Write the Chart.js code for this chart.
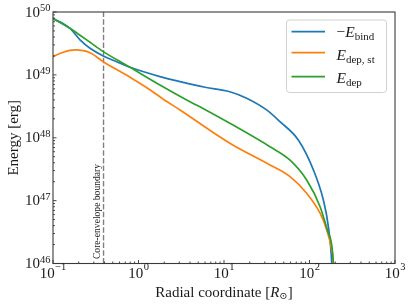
<!DOCTYPE html>
<html>
<head>
<meta charset="utf-8">
<script src="https://cdn.jsdelivr.net/npm/chart.js@4/dist/chart.umd.min.js"></script>
<style>
html,body{margin:0;padding:0;background:#fff;}
#c{display:block;}
</style>
</head>
<body>
<canvas id="c" width="411" height="307"></canvas>
<script>
// ---- data ----
const seriesLabels = ["−E_bind", "E_dep, st", "E_dep"];
const seriesColors = ["#1f77b4", "#ff7f0e", "#2ca02c"];

const radiusBind = [0.1, 0.158, 0.207, 0.271, 0.387, 0.556, 0.796, 1.78, 3.06, 6.0, 11.7, 18.4, 31.5, 45.2, 74, 111, 145, 166, 182, 186];
const energyBind = [7.9e49, 5.5e49, 3.6e49, 2.65e49, 2.0e49, 1.62e49, 1.32e49, 9.4e48, 7.8e48, 6.35e48, 5.4e48, 4.25e48, 2.77e48, 1.8e48, 9.2e47, 3.08e47, 1.03e47, 3.9e46, 1.0e46, 4e45];

const radiusDepSt = [0.1, 0.132, 0.181, 0.271, 0.387, 0.796, 1.36, 1.95, 3.06, 11.7, 34.5, 59.2, 92.7, 133, 159, 182, 190, 193];
const energyDepSt = [1.95e49, 2.29e49, 2.49e49, 2.25e49, 1.62e49, 9.2e48, 5.8e48, 4.1e48, 2.77e48, 8.2e47, 3.7e47, 2.41e47, 1.31e47, 6.3e46, 3.42e46, 1.64e46, 1.0e46, 4e45];

const radiusDep = [0.1, 0.158, 0.207, 0.271, 0.387, 0.796, 1.78, 3.66, 6.28, 11.7, 34.5, 59.2, 92.7, 133, 166, 190, 193];
const energyDep = [7.9e49, 5.5e49, 4.27e49, 3.3e49, 2.34e49, 1.32e49, 6.9e48, 3.99e48, 2.72e48, 1.7e48, 7.2e47, 4.4e47, 2.13e47, 8.0e46, 3.03e46, 1.0e46, 4e45];

const coreBoundaryRadius = 0.39;
const xRange = [0.1, 1000];
const yRange = [1e46, 1e50];
const xMajorExponents = [-1, 0, 1, 2, 3];
const yMajorExponents = [46, 47, 48, 49, 50];
const boundaryText = "Core-envelope boundary";

// ---- helpers ----
const pts = (xs, ys) => xs.map((x, i) => ({x, y: ys[i]}));
const SERIF = '"Liberation Serif", "DejaVu Serif", serif';
const TXT = '#1a1a1a';

function drawRuns(ctx, runs, x, y, align) {
  let total = 0;
  runs.forEach(r => { ctx.font = r.font; r.w = ctx.measureText(r.t).width; total += r.w + (r.gap || 0); });
  let cx = align === 'center' ? x - total / 2 : (align === 'right' ? x - total : x);
  ctx.textAlign = 'left';
  ctx.textBaseline = 'alphabetic';
  runs.forEach(r => { ctx.font = r.font; ctx.fillText(r.t, cx + (r.gap || 0), y + (r.dy || 0)); cx += r.w + (r.gap || 0); });
}
const rom = s => `${s}px ${SERIF}`;
const ita = s => `italic ${s}px ${SERIF}`;
const expText = e => (e < 0 ? '−' + (-e) : String(e));

const decorPlugin = {
  id: 'decor',
  afterDraw(chart) {
    const ctx = chart.ctx, a = chart.chartArea;
    const xs = chart.scales.x, ys = chart.scales.y;
    ctx.save();
    // ticks (inward, left and bottom)
    ctx.strokeStyle = '#333';
    ctx.lineWidth = 0.9;
    const minorX = [], minorY = [];
    for (let e = -1; e < 3; e++) for (let m = 2; m <= 9; m++) minorX.push(m * Math.pow(10, e));
    for (let e = 46; e < 50; e++) for (let m = 2; m <= 9; m++) minorY.push(m * Math.pow(10, e));
    ctx.beginPath();
    minorX.forEach(v => { const px = xs.getPixelForValue(v); ctx.moveTo(px, a.bottom); ctx.lineTo(px, a.bottom - 2); });
    minorY.forEach(v => { const py = ys.getPixelForValue(v); ctx.moveTo(a.left, py); ctx.lineTo(a.left + 2, py); });
    xMajorExponents.forEach(e => { const px = xs.getPixelForValue(Math.pow(10, e)); ctx.moveTo(px, a.bottom); ctx.lineTo(px, a.bottom - 3.5); });
    yMajorExponents.forEach(e => { const py = ys.getPixelForValue(Math.pow(10, e)); ctx.moveTo(a.left, py); ctx.lineTo(a.left + 3.5, py); });
    ctx.stroke();
    // frame
    ctx.strokeStyle = '#3a3a3a';
    ctx.lineWidth = 1.1;
    ctx.strokeRect(a.left, a.top, a.right - a.left, a.bottom - a.top);

    // tick labels
    ctx.fillStyle = TXT;
    yMajorExponents.forEach(e => {
      const py = ys.getPixelForValue(Math.pow(10, e));
      drawRuns(ctx, [{t: '10', font: rom(15)}, {t: expText(e), font: rom(10.5), dy: -5.5}], a.left - 2.5, py + 4.5, 'right');
    });
    xMajorExponents.forEach(e => {
      const px = xs.getPixelForValue(Math.pow(10, e));
      drawRuns(ctx, [{t: '10', font: rom(15)}, {t: expText(e), font: rom(10.5), dy: -8, gap: 0.5}], px, a.bottom + 14.5, 'center');
    });

    // axis titles
    drawRuns(ctx, [
      {t: 'Radial coordinate [', font: rom(15)},
      {t: 'R', font: ita(15)},
      {t: '⊙', font: rom(10), dy: 2.5},
      {t: ']', font: rom(15)}
    ], (a.left + a.right) / 2, 296.5, 'center');
    ctx.save();
    ctx.translate(18, (a.top + a.bottom) / 2);
    ctx.rotate(-Math.PI / 2);
    drawRuns(ctx, [{t: 'Energy [erg]', font: rom(15)}], 0, 0, 'center');
    ctx.restore();

    // boundary annotation
    ctx.save();
    const bx = xs.getPixelForValue(coreBoundaryRadius);
    ctx.translate(bx - 3.2, 211.5);
    ctx.rotate(-Math.PI / 2);
    ctx.fillStyle = '#222';
    drawRuns(ctx, [{t: boundaryText, font: rom(9.6)}], 0, 0, 'center');
    ctx.restore();

    // legend
    const L = {x: 286.5, y: 20, w: 100, h: 72.5, r: 3};
    ctx.fillStyle = 'rgba(255,255,255,0.85)';
    ctx.strokeStyle = '#d0d0d0';
    ctx.lineWidth = 1;
    ctx.beginPath();
    ctx.roundRect(L.x, L.y, L.w, L.h, L.r);
    ctx.fill();
    ctx.stroke();
    const lineY = [31.7, 52.7, 76.7];
    const baseY = [36.7, 59.8, 83.2];
    const texts = [
      [{t: '−', font: rom(15.5)}, {t: 'E', font: ita(15.5)}, {t: 'bind', font: rom(11), dy: 3}],
      [{t: 'E', font: ita(15.5)}, {t: 'dep, st', font: rom(11), dy: 3}],
      [{t: 'E', font: ita(15.5)}, {t: 'dep', font: rom(11), dy: 3}]
    ];
    chart.data.datasets.slice(0, 3).forEach((ds, i) => {
      ctx.strokeStyle = ds.borderColor;
      ctx.lineWidth = ds.borderWidth;
      ctx.beginPath();
      ctx.moveTo(291.5, lineY[i]);
      ctx.lineTo(325, lineY[i]);
      ctx.stroke();
      ctx.fillStyle = TXT;
      drawRuns(ctx, texts[i], 336.5, baseY[i], 'left');
    });
    ctx.restore();
  }
};

const lineStyle = c => ({borderColor: c, backgroundColor: c, borderWidth: 1.7, pointRadius: 0, fill: false, cubicInterpolationMode: 'monotone'});

new Chart(document.getElementById('c'), {
  type: 'line',
  data: {
    datasets: [
      Object.assign({label: seriesLabels[0], data: pts(radiusBind, energyBind), order: 3}, lineStyle(seriesColors[0])),
      Object.assign({label: seriesLabels[1], data: pts(radiusDepSt, energyDepSt), order: 2}, lineStyle(seriesColors[1])),
      Object.assign({label: seriesLabels[2], data: pts(radiusDep, energyDep), order: 1}, lineStyle(seriesColors[2])),
      {label: boundaryText, data: [{x: coreBoundaryRadius, y: yRange[0]}, {x: coreBoundaryRadius, y: yRange[1]}],
       borderColor: '#7f7f7f', borderWidth: 1.4, borderDash: [5.5, 2.2], pointRadius: 0, fill: false, order: 4}
    ]
  },
  options: {
    responsive: false,
    animation: false,
    devicePixelRatio: 1,
    layout: {padding: {left: 53, top: 12, right: 16, bottom: 43.5}},
    plugins: {legend: {display: false}, tooltip: {enabled: false}},
    scales: {
      x: {type: 'logarithmic', min: xRange[0], max: xRange[1], display: false},
      y: {type: 'logarithmic', min: yRange[0], max: yRange[1], display: false}
    }
  },
  plugins: [decorPlugin]
});
</script>
</body>
</html>
